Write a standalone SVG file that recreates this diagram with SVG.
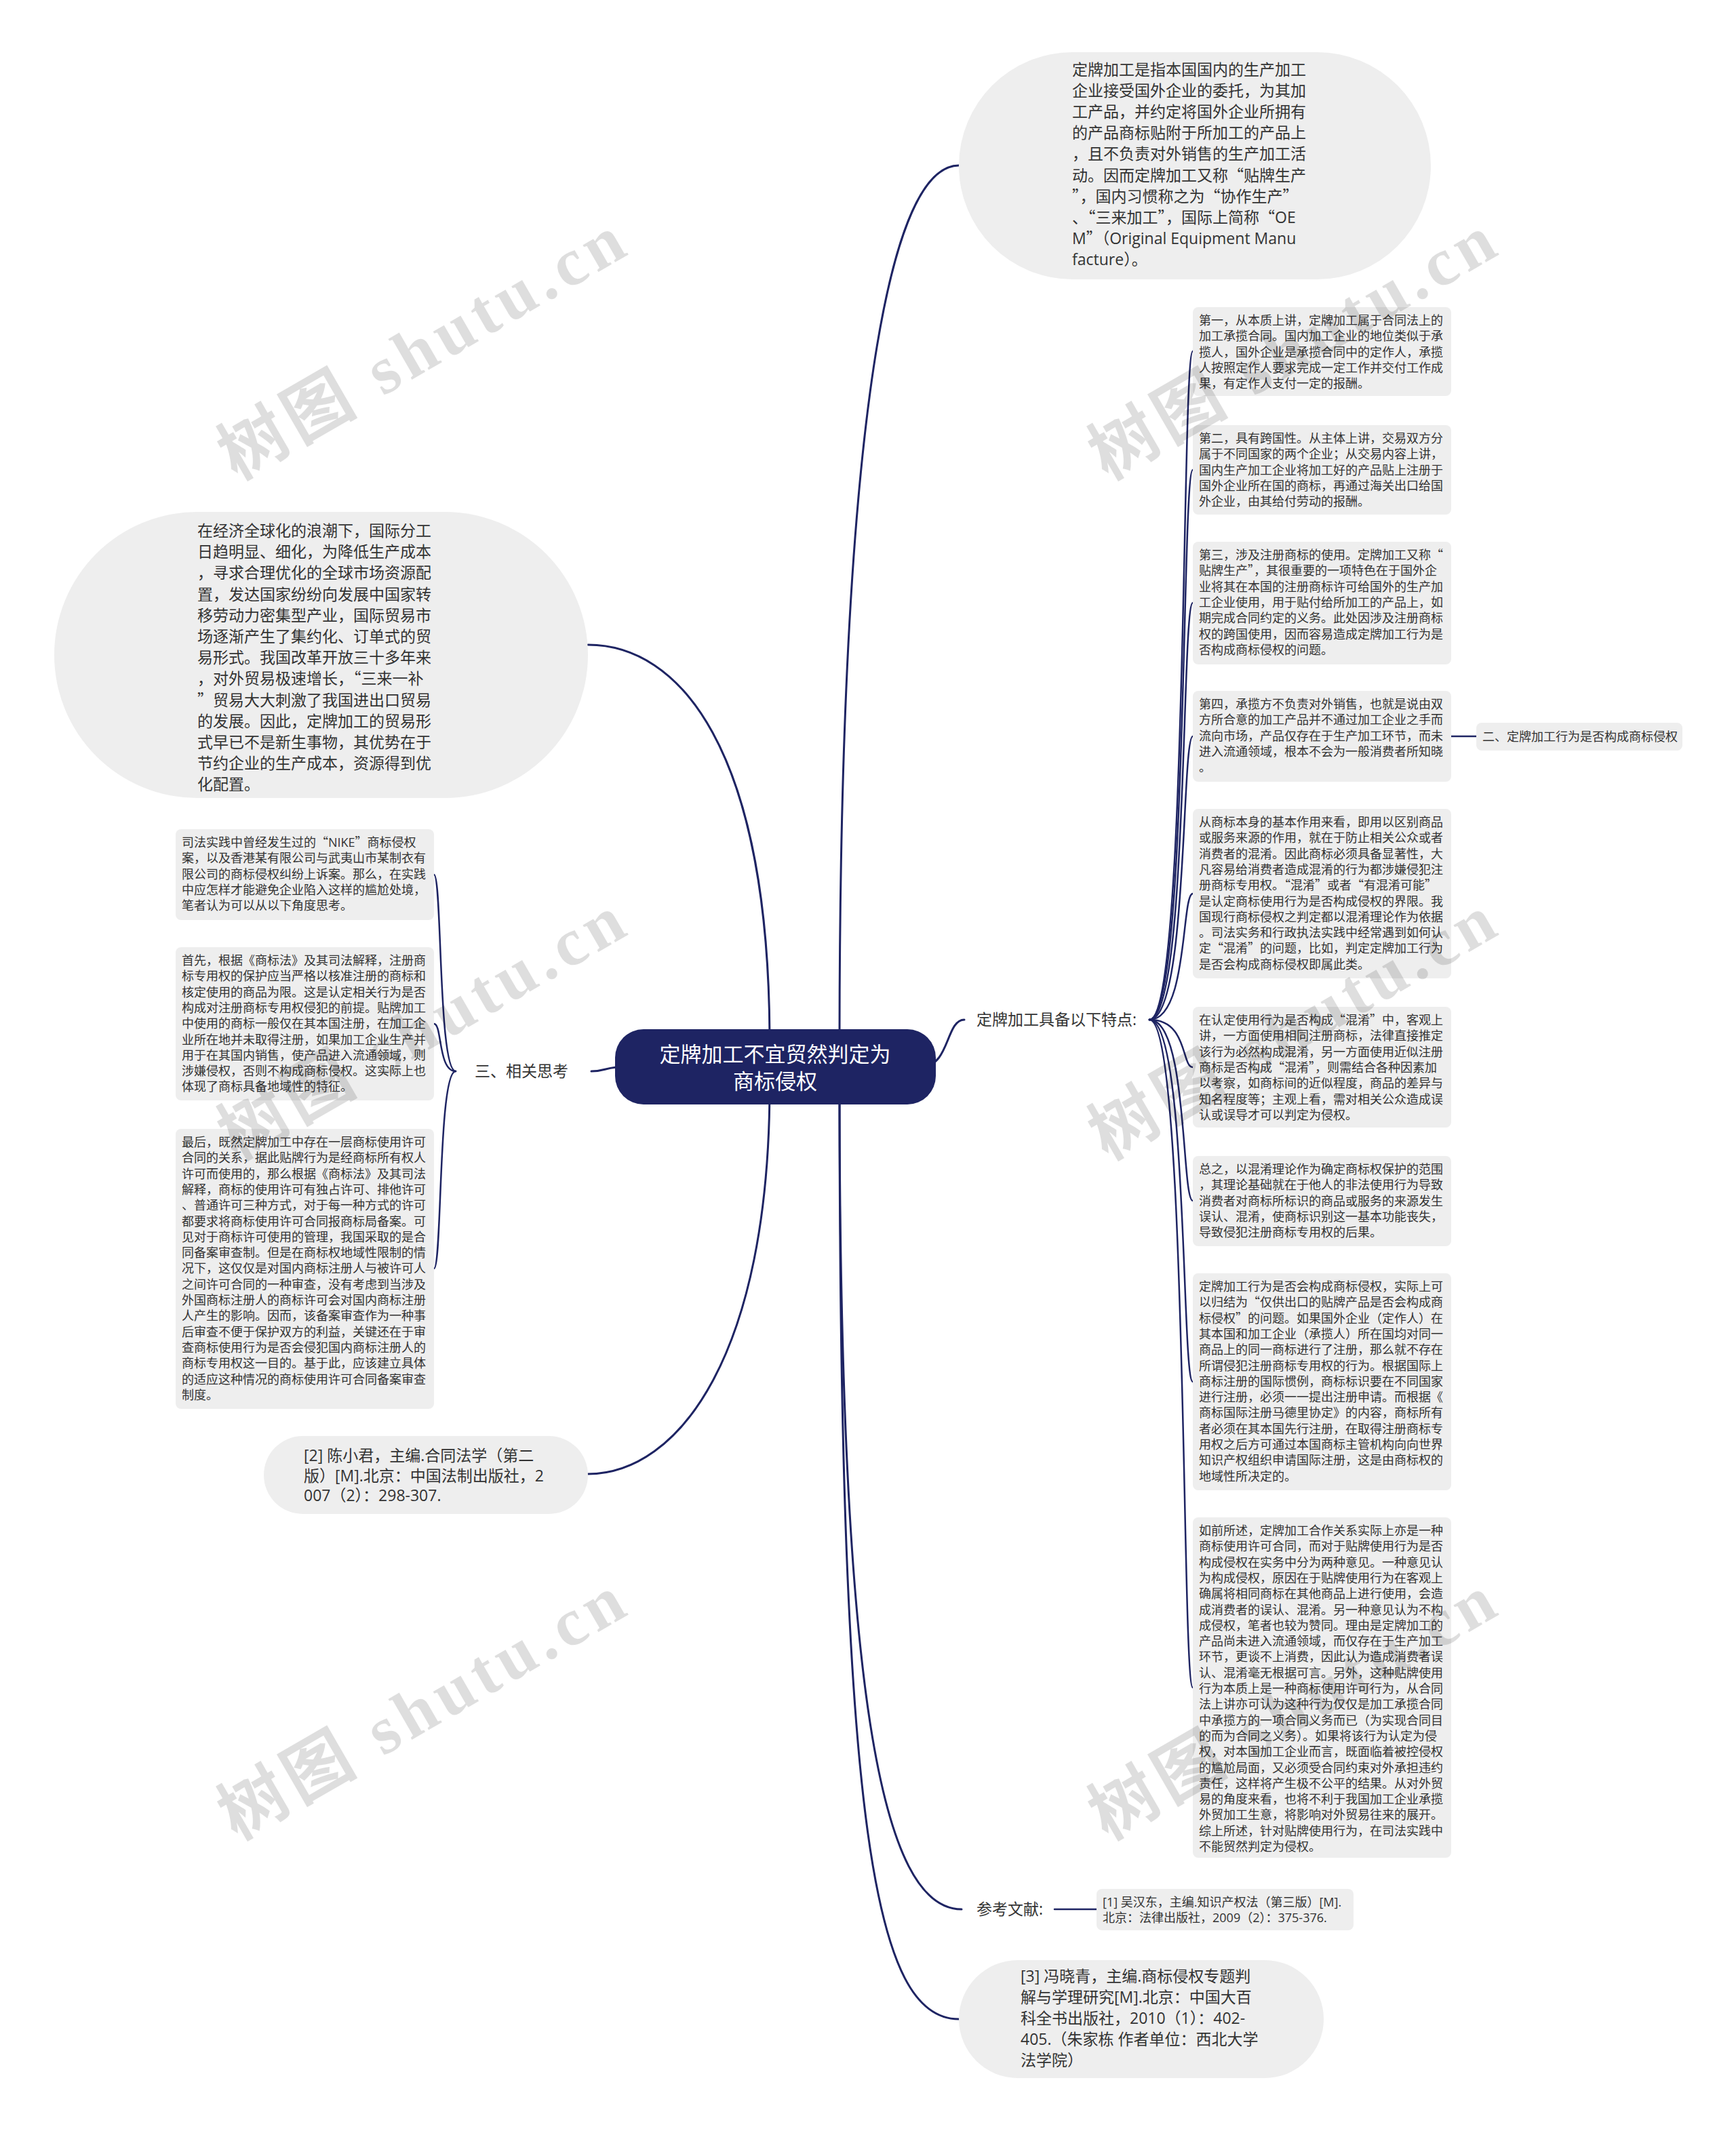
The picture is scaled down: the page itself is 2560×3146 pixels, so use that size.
<svg xmlns="http://www.w3.org/2000/svg" width="2560" height="3146" viewBox="0 0 2560 3146">
<style>
.t{font-family:'Open Sans','Noto Sans CJK SC',sans-serif;fill:#333333}
.q{font-family:'Noto Sans CJK SC',sans-serif}
.s18{font-size:18px}
.s23{font-size:23px}
.box{fill:#eeeeee}
.con{fill:none;stroke:#1e2463;stroke-width:3;stroke-linecap:round}
.con2{fill:none;stroke:#1e2463;stroke-width:2.5;stroke-linecap:round}
.wm{font-family:'Liberation Serif','Noto Sans CJK SC',serif;font-size:100px;letter-spacing:8px;fill:#000000;fill-opacity:0.13;font-weight:bold}
</style>
<rect width="2560" height="3146" fill="#ffffff"/>
<g id="connectors">
<path class="con" d="M1238,1540 C1238,700 1300,244 1414,244"/>
<path class="con" d="M1360,1573 C1400,1573 1395,1504 1422,1504"/>
<path class="con" d="M1238,1600 C1238,2500 1300,2816 1418,2816"/>
<path class="con" d="M1238,1600 C1238,2700 1290,2978 1414,2978"/>
<path class="con" d="M1135,1540 C1135,1100 1000,951 867,951"/>
<path class="con" d="M930,1573 C890,1573 895,1580 872,1580"/>
<path class="con" d="M1135,1600 C1135,2000 1000,2174 867,2174"/>
<path class="con2" d="M1695,1504 C1752,1504 1742,518 1759,518"/>
<path class="con2" d="M1695,1504 C1752,1504 1742,693 1759,693"/>
<path class="con2" d="M1695,1504 C1752,1504 1742,889 1759,889"/>
<path class="con2" d="M1695,1504 C1752,1504 1742,1086 1759,1086"/>
<path class="con2" d="M1695,1504 C1752,1504 1742,1318 1759,1318"/>
<path class="con2" d="M1695,1504 C1752,1504 1742,1574 1759,1574"/>
<path class="con2" d="M1695,1504 C1752,1504 1742,1771 1759,1771"/>
<path class="con2" d="M1695,1504 C1752,1504 1742,2038 1759,2038"/>
<path class="con2" d="M1695,1504 C1752,1504 1742,2489 1759,2489"/>
<path class="con2" d="M2140,1086 L2177,1086"/>
<path class="con2" d="M672,1580 C646,1580 652,1290 640,1290"/>
<path class="con2" d="M672,1580 C646,1580 652,1510 640,1510"/>
<path class="con2" d="M672,1580 C646,1580 652,1871 640,1871"/>
<path class="con2" d="M1555,2816 L1617,2816"/>
</g>
<g id="center">
<rect x="907" y="1518" width="473" height="111" rx="42" fill="#1e2463"/>
<text class="t" x="1143" y="1566" text-anchor="middle" style="font-size:31px;fill:#ffffff">定牌加工不宜贸然判定为</text>
<text class="t" x="1143" y="1606" text-anchor="middle" style="font-size:31px;fill:#ffffff">商标侵权</text>
</g>
<g id="intro-top">
<rect x="1414" y="77" width="696" height="335" rx="167.5" class="box"/>
<text class="t s23" x="1581" y="111">定牌加工是指本国国内的生产加工<tspan x="1581" dy="31.1">企业接受国外企业的委托，为其加</tspan><tspan x="1581" dy="31.1">工产品，并约定将国外企业所拥有</tspan><tspan x="1581" dy="31.1">的产品商标贴附于所加工的产品上</tspan><tspan x="1581" dy="31.1">，且不负责对外销售的生产加工活</tspan><tspan x="1581" dy="31.1">动。因而定牌加工又称<tspan class="q">“</tspan>贴牌生产</tspan><tspan x="1581" dy="31.1"><tspan class="q">”</tspan>，国内习惯称之为<tspan class="q">“</tspan>协作生产<tspan class="q">”</tspan></tspan><tspan x="1581" dy="31.1">、<tspan class="q">“</tspan>三来加工<tspan class="q">”</tspan>，国际上简称<tspan class="q">“</tspan>OE</tspan><tspan x="1581" dy="31.1">M<tspan class="q">”</tspan>（Original Equipment Manu</tspan><tspan x="1581" dy="31.1">facture）。</tspan></text>
</g>
<g id="features">
<text class="t s23" x="1440" y="1512">定牌加工具备以下特点:</text>
</g>
<g id="f1">
<rect x="1759" y="453" width="381" height="131" rx="8" class="box"/>
<text class="t s18" x="1768" y="479">第一，从本质上讲，定牌加工属于合同法上的<tspan x="1768" dy="23.3">加工承揽合同。国内加工企业的地位类似于承</tspan><tspan x="1768" dy="23.3">揽人，国外企业是承揽合同中的定作人，承揽</tspan><tspan x="1768" dy="23.3">人按照定作人要求完成一定工作并交付工作成</tspan><tspan x="1768" dy="23.3">果，有定作人支付一定的报酬。</tspan></text>
</g>
<g id="f2">
<rect x="1759" y="627" width="381" height="132" rx="8" class="box"/>
<text class="t s18" x="1768" y="653">第二，具有跨国性。从主体上讲，交易双方分<tspan x="1768" dy="23.3">属于不同国家的两个企业；从交易内容上讲，</tspan><tspan x="1768" dy="23.3">国内生产加工企业将加工好的产品贴上注册于</tspan><tspan x="1768" dy="23.3">国外企业所在国的商标，再通过海关出口给国</tspan><tspan x="1768" dy="23.3">外企业，由其给付劳动的报酬。</tspan></text>
</g>
<g id="f3">
<rect x="1759" y="799" width="381" height="181" rx="8" class="box"/>
<text class="t s18" x="1768" y="825">第三，涉及注册商标的使用。定牌加工又称<tspan class="q">“</tspan><tspan x="1768" dy="23.3">贴牌生产<tspan class="q">”</tspan>，其很重要的一项特色在于国外企</tspan><tspan x="1768" dy="23.3">业将其在本国的注册商标许可给国外的生产加</tspan><tspan x="1768" dy="23.3">工企业使用，用于贴付给所加工的产品上，如</tspan><tspan x="1768" dy="23.3">期完成合同约定的义务。此处因涉及注册商标</tspan><tspan x="1768" dy="23.3">权的跨国使用，因而容易造成定牌加工行为是</tspan><tspan x="1768" dy="23.3">否构成商标侵权的问题。</tspan></text>
</g>
<g id="f4">
<rect x="1759" y="1019" width="381" height="134" rx="8" class="box"/>
<text class="t s18" x="1768" y="1045">第四，承揽方不负责对外销售，也就是说由双<tspan x="1768" dy="23.3">方所合意的加工产品并不通过加工企业之手而</tspan><tspan x="1768" dy="23.3">流向市场，产品仅存在于生产加工环节，而未</tspan><tspan x="1768" dy="23.3">进入流通领域，根本不会为一般消费者所知晓</tspan><tspan x="1768" dy="23.3">。</tspan></text>
</g>
<g id="f4-child">
<rect x="2177" y="1066" width="304" height="41" rx="8" class="box"/>
<text class="t s18" x="2186" y="1093">二、定牌加工行为是否构成商标侵权</text>
</g>
<g id="f5">
<rect x="1759" y="1193" width="381" height="250" rx="8" class="box"/>
<text class="t s18" x="1768" y="1219">从商标本身的基本作用来看，即用以区别商品<tspan x="1768" dy="23.3">或服务来源的作用，就在于防止相关公众或者</tspan><tspan x="1768" dy="23.3">消费者的混淆。因此商标必须具备显著性，大</tspan><tspan x="1768" dy="23.3">凡容易给消费者造成混淆的行为都涉嫌侵犯注</tspan><tspan x="1768" dy="23.3">册商标专用权。<tspan class="q">“</tspan>混淆<tspan class="q">”</tspan>或者<tspan class="q">“</tspan>有混淆可能<tspan class="q">”</tspan></tspan><tspan x="1768" dy="23.3">是认定商标使用行为是否构成侵权的界限。我</tspan><tspan x="1768" dy="23.3">国现行商标侵权之判定都以混淆理论作为依据</tspan><tspan x="1768" dy="23.3">。司法实务和行政执法实践中经常遇到如何认</tspan><tspan x="1768" dy="23.3">定<tspan class="q">“</tspan>混淆<tspan class="q">”</tspan>的问题，比如，判定定牌加工行为</tspan><tspan x="1768" dy="23.3">是否会构成商标侵权即属此类。</tspan></text>
</g>
<g id="f6">
<rect x="1759" y="1485" width="381" height="178" rx="8" class="box"/>
<text class="t s18" x="1768" y="1511">在认定使用行为是否构成<tspan class="q">“</tspan>混淆<tspan class="q">”</tspan>中，客观上<tspan x="1768" dy="23.3">讲，一方面使用相同注册商标，法律直接推定</tspan><tspan x="1768" dy="23.3">该行为必然构成混淆，另一方面使用近似注册</tspan><tspan x="1768" dy="23.3">商标是否构成<tspan class="q">“</tspan>混淆<tspan class="q">”</tspan>，则需结合各种因素加</tspan><tspan x="1768" dy="23.3">以考察，如商标间的近似程度，商品的差异与</tspan><tspan x="1768" dy="23.3">知名程度等；主观上看，需对相关公众造成误</tspan><tspan x="1768" dy="23.3">认或误导才可以判定为侵权。</tspan></text>
</g>
<g id="f7">
<rect x="1759" y="1705" width="381" height="133" rx="8" class="box"/>
<text class="t s18" x="1768" y="1731">总之，以混淆理论作为确定商标权保护的范围<tspan x="1768" dy="23.3">，其理论基础就在于他人的非法使用行为导致</tspan><tspan x="1768" dy="23.3">消费者对商标所标识的商品或服务的来源发生</tspan><tspan x="1768" dy="23.3">误认、混淆，使商标识别这一基本功能丧失，</tspan><tspan x="1768" dy="23.3">导致侵犯注册商标专用权的后果。</tspan></text>
</g>
<g id="f8">
<rect x="1759" y="1878" width="381" height="320" rx="8" class="box"/>
<text class="t s18" x="1768" y="1904">定牌加工行为是否会构成商标侵权，实际上可<tspan x="1768" dy="23.3">以归结为<tspan class="q">“</tspan>仅供出口的贴牌产品是否会构成商</tspan><tspan x="1768" dy="23.3">标侵权<tspan class="q">”</tspan>的问题。如果国外企业（定作人）在</tspan><tspan x="1768" dy="23.3">其本国和加工企业（承揽人）所在国均对同一</tspan><tspan x="1768" dy="23.3">商品上的同一商标进行了注册，那么就不存在</tspan><tspan x="1768" dy="23.3">所谓侵犯注册商标专用权的行为。根据国际上</tspan><tspan x="1768" dy="23.3">商标注册的国际惯例，商标标识要在不同国家</tspan><tspan x="1768" dy="23.3">进行注册，必须一一提出注册申请。而根据《</tspan><tspan x="1768" dy="23.3">商标国际注册马德里协定》的内容，商标所有</tspan><tspan x="1768" dy="23.3">者必须在其本国先行注册，在取得注册商标专</tspan><tspan x="1768" dy="23.3">用权之后方可通过本国商标主管机构向向世界</tspan><tspan x="1768" dy="23.3">知识产权组织申请国际注册，这是由商标权的</tspan><tspan x="1768" dy="23.3">地域性所决定的。</tspan></text>
</g>
<g id="f9">
<rect x="1759" y="2238" width="381" height="502" rx="8" class="box"/>
<text class="t s18" x="1768" y="2264">如前所述，定牌加工合作关系实际上亦是一种<tspan x="1768" dy="23.3">商标使用许可合同，而对于贴牌使用行为是否</tspan><tspan x="1768" dy="23.3">构成侵权在实务中分为两种意见。一种意见认</tspan><tspan x="1768" dy="23.3">为构成侵权，原因在于贴牌使用行为在客观上</tspan><tspan x="1768" dy="23.3">确属将相同商标在其他商品上进行使用，会造</tspan><tspan x="1768" dy="23.3">成消费者的误认、混淆。另一种意见认为不构</tspan><tspan x="1768" dy="23.3">成侵权，笔者也较为赞同。理由是定牌加工的</tspan><tspan x="1768" dy="23.3">产品尚未进入流通领域，而仅存在于生产加工</tspan><tspan x="1768" dy="23.3">环节，更谈不上消费，因此认为造成消费者误</tspan><tspan x="1768" dy="23.3">认、混淆毫无根据可言。另外，这种贴牌使用</tspan><tspan x="1768" dy="23.3">行为本质上是一种商标使用许可行为，从合同</tspan><tspan x="1768" dy="23.3">法上讲亦可认为这种行为仅仅是加工承揽合同</tspan><tspan x="1768" dy="23.3">中承揽方的一项合同义务而已（为实现合同目</tspan><tspan x="1768" dy="23.3">的而为合同之义务）。如果将该行为认定为侵</tspan><tspan x="1768" dy="23.3">权，对本国加工企业而言，既面临着被控侵权</tspan><tspan x="1768" dy="23.3">的尴尬局面，又必须受合同约束对外承担违约</tspan><tspan x="1768" dy="23.3">责任，这样将产生极不公平的结果。从对外贸</tspan><tspan x="1768" dy="23.3">易的角度来看，也将不利于我国加工企业承揽</tspan><tspan x="1768" dy="23.3">外贸加工生意，将影响对外贸易往来的展开。</tspan><tspan x="1768" dy="23.3">综上所述，针对贴牌使用行为，在司法实践中</tspan><tspan x="1768" dy="23.3">不能贸然判定为侵权。</tspan></text>
</g>
<g id="refs">
<text class="t s23" x="1440" y="2824">参考文献:</text>
</g>
<g id="ref1">
<rect x="1617" y="2786" width="379" height="61" rx="8" class="box"/>
<text class="t s18" x="1626" y="2812">[1] 吴汉东，主编.知识产权法（第三版）[M].<tspan x="1626" dy="23.3">北京：法律出版社，2009（2）：375-376.</tspan></text>
</g>
<g id="ref3">
<rect x="1414" y="2891" width="538" height="174" rx="87" class="box"/>
<text class="t s23" x="1505" y="2923">[3] 冯晓青，主编.商标侵权专题判<tspan x="1505" dy="31">解与学理研究[M].北京：中国大百</tspan><tspan x="1505" dy="31">科全书出版社，2010（1）：402-</tspan><tspan x="1505" dy="31">405.（朱家栋 作者单位：西北大学</tspan><tspan x="1505" dy="31">法学院）</tspan></text>
</g>
<g id="intro-left">
<rect x="80" y="755" width="787" height="422" rx="211" class="box"/>
<text class="t s23" x="291" y="791">在经济全球化的浪潮下，国际分工<tspan x="291" dy="31.2">日趋明显、细化，为降低生产成本</tspan><tspan x="291" dy="31.2">，寻求合理优化的全球市场资源配</tspan><tspan x="291" dy="31.2">置，发达国家纷纷向发展中国家转</tspan><tspan x="291" dy="31.2">移劳动力密集型产业，国际贸易市</tspan><tspan x="291" dy="31.2">场逐渐产生了集约化、订单式的贸</tspan><tspan x="291" dy="31.2">易形式。我国改革开放三十多年来</tspan><tspan x="291" dy="31.2">，对外贸易极速增长，<tspan class="q">“</tspan>三来一补</tspan><tspan x="291" dy="31.2"><tspan class="q">”</tspan>贸易大大刺激了我国进出口贸易</tspan><tspan x="291" dy="31.2">的发展。因此，定牌加工的贸易形</tspan><tspan x="291" dy="31.2">式早已不是新生事物，其优势在于</tspan><tspan x="291" dy="31.2">节约企业的生产成本，资源得到优</tspan><tspan x="291" dy="31.2">化配置。</tspan></text>
</g>
<g id="thoughts">
<text class="t s23" x="700" y="1588">三、相关思考</text>
</g>
<g id="t1">
<rect x="259" y="1223" width="381" height="134" rx="8" class="box"/>
<text class="t s18" x="268" y="1249">司法实践中曾经发生过的<tspan class="q">“</tspan>NIKE<tspan class="q">”</tspan>商标侵权<tspan x="268" dy="23.3">案，以及香港某有限公司与武夷山市某制衣有</tspan><tspan x="268" dy="23.3">限公司的商标侵权纠纷上诉案。那么，在实践</tspan><tspan x="268" dy="23.3">中应怎样才能避免企业陷入这样的尴尬处境，</tspan><tspan x="268" dy="23.3">笔者认为可以从以下角度思考。</tspan></text>
</g>
<g id="t2">
<rect x="259" y="1397" width="381" height="226" rx="8" class="box"/>
<text class="t s18" x="268" y="1423">首先，根据《商标法》及其司法解释，注册商<tspan x="268" dy="23.3">标专用权的保护应当严格以核准注册的商标和</tspan><tspan x="268" dy="23.3">核定使用的商品为限。这是认定相关行为是否</tspan><tspan x="268" dy="23.3">构成对注册商标专用权侵犯的前提。贴牌加工</tspan><tspan x="268" dy="23.3">中使用的商标一般仅在其本国注册，在加工企</tspan><tspan x="268" dy="23.3">业所在地并未取得注册，如果加工企业生产并</tspan><tspan x="268" dy="23.3">用于在其国内销售，使产品进入流通领域，则</tspan><tspan x="268" dy="23.3">涉嫌侵权，否则不构成商标侵权。这实际上也</tspan><tspan x="268" dy="23.3">体现了商标具备地域性的特征。</tspan></text>
</g>
<g id="t3">
<rect x="259" y="1665" width="381" height="413" rx="8" class="box"/>
<text class="t s18" x="268" y="1691">最后，既然定牌加工中存在一层商标使用许可<tspan x="268" dy="23.3">合同的关系，据此贴牌行为是经商标所有权人</tspan><tspan x="268" dy="23.3">许可而使用的，那么根据《商标法》及其司法</tspan><tspan x="268" dy="23.3">解释，商标的使用许可有独占许可、排他许可</tspan><tspan x="268" dy="23.3">、普通许可三种方式，对于每一种方式的许可</tspan><tspan x="268" dy="23.3">都要求将商标使用许可合同报商标局备案。可</tspan><tspan x="268" dy="23.3">见对于商标许可使用的管理，我国采取的是合</tspan><tspan x="268" dy="23.3">同备案审查制。但是在商标权地域性限制的情</tspan><tspan x="268" dy="23.3">况下，这仅仅是对国内商标注册人与被许可人</tspan><tspan x="268" dy="23.3">之间许可合同的一种审查，没有考虑到当涉及</tspan><tspan x="268" dy="23.3">外国商标注册人的商标许可会对国内商标注册</tspan><tspan x="268" dy="23.3">人产生的影响。因而，该备案审查作为一种事</tspan><tspan x="268" dy="23.3">后审查不便于保护双方的利益，关键还在于审</tspan><tspan x="268" dy="23.3">查商标使用行为是否会侵犯国内商标注册人的</tspan><tspan x="268" dy="23.3">商标专用权这一目的。基于此，应该建立具体</tspan><tspan x="268" dy="23.3">的适应这种情况的商标使用许可合同备案审查</tspan><tspan x="268" dy="23.3">制度。</tspan></text>
</g>
<g id="ref2">
<rect x="389" y="2118" width="478" height="115" rx="57.5" class="box"/>
<text class="t s23" x="448" y="2155">[2] 陈小君，主编.合同法学（第二<tspan x="448" dy="29.5">版）[M].北京：中国法制出版社，2</tspan><tspan x="448" dy="29.5">007（2）：298-307.</tspan></text>
</g>
<g id="watermark">
<text class="wm" text-anchor="middle" transform="translate(642,540) rotate(-30)">树图 shutu.cn</text>
<text class="wm" text-anchor="middle" transform="translate(1926,540) rotate(-30)">树图 shutu.cn</text>
<text class="wm" text-anchor="middle" transform="translate(642,1543) rotate(-30)">树图 shutu.cn</text>
<text class="wm" text-anchor="middle" transform="translate(1926,1543) rotate(-30)">树图 shutu.cn</text>
<text class="wm" text-anchor="middle" transform="translate(642,2546) rotate(-30)">树图 shutu.cn</text>
<text class="wm" text-anchor="middle" transform="translate(1926,2546) rotate(-30)">树图 shutu.cn</text>
</g>
</svg>
